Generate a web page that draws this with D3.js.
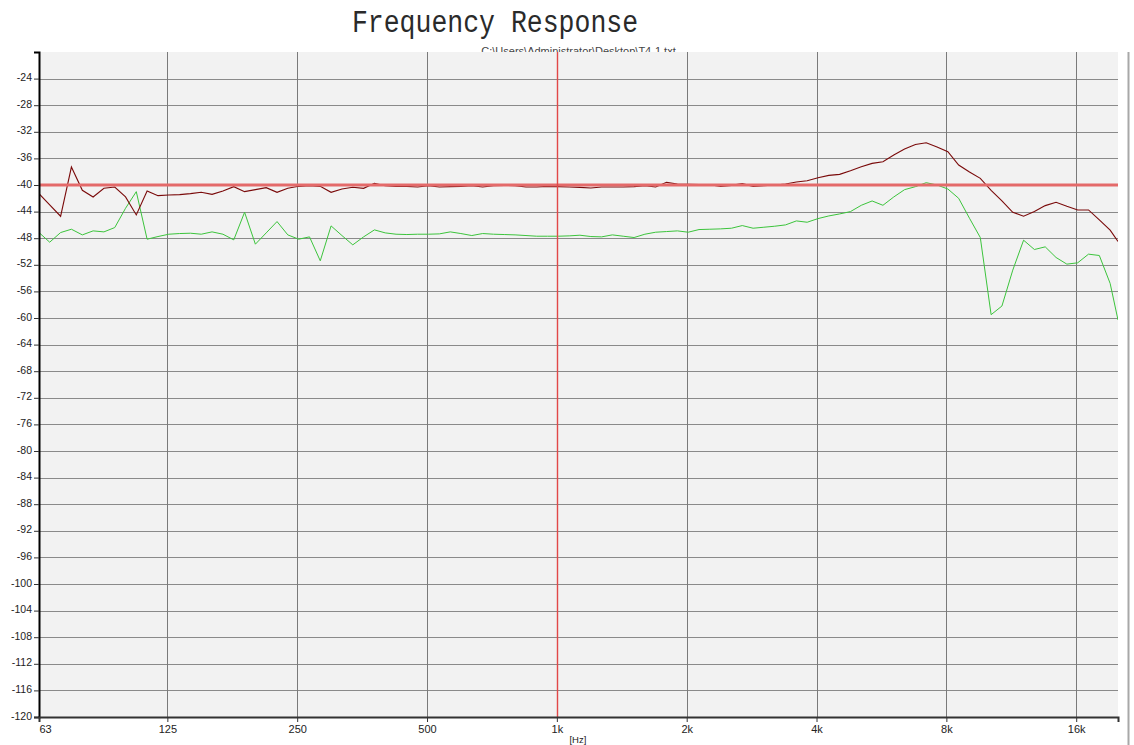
<!DOCTYPE html>
<html>
<head>
<meta charset="utf-8">
<script src="https://cdn.jsdelivr.net/npm/d3@7"></script>
<style>
html,body{margin:0;padding:0;background:#fff;}
svg{display:block;}
</style>
</head>
<body>
<svg id="chart" width="1134" height="745"></svg>
<script>
// ---- data ----
const title = "Frequency Response";
const subtitle = "C:\\Users\\Administrator\\Desktop\\T4-1.txt";
const xUnit = "[Hz]";
const xTickValues = [63, 125, 250, 500, 1000, 2000, 4000, 8000, 16000];
const xTickLabels = ["63", "125", "250", "500", "1k", "2k", "4k", "8k", "16k"];
const yTickValues = [-24,-28,-32,-36,-40,-44,-48,-52,-56,-60,-64,-68,-72,-76,-80,-84,-88,-92,-96,-100,-104,-108,-112,-116,-120];
const referenceLevel = -40;
const referenceFreq = 1000;

const freqs = [
  63.0, 66.7, 70.7, 74.9, 79.4, 84.1, 89.1, 94.4, 100.0, 105.9, 112.2, 118.9,
  126.0, 133.5, 141.4, 149.8, 158.7, 168.2, 178.2, 188.8, 200.0, 211.9, 224.5, 237.8,
  252.0, 267.0, 282.8, 299.6, 317.5, 336.4, 356.4, 377.6, 400.0, 423.8, 449.0, 475.7,
  504, 534, 566, 599, 635, 673, 713, 755, 800, 848, 898, 951,
  1008, 1068, 1131, 1199, 1270, 1345, 1425, 1510, 1600, 1695, 1796, 1903,
  2016, 2136, 2263, 2397, 2540, 2691, 2851, 3020, 3200, 3390, 3592, 3805,
  4032, 4272, 4525, 4794, 5080, 5382, 5702, 6041, 6400, 6781, 7184, 7611,
  8064, 8543, 9051, 9589, 10159, 10763, 11404, 12082, 12800, 13561, 14368, 15222,
  16128, 17087, 18102, 19179, 20000
];

const darkRed = [
  -41.3, -43.0, -44.7, -37.3, -40.8, -41.8, -40.5, -40.3, -41.8, -44.5, -40.9, -41.6,
  -41.5, -41.45, -41.3, -41.1, -41.4, -40.9, -40.25, -41.0, -40.7, -40.4, -41.1, -40.5,
  -40.2, -40.1, -40.2, -41.1, -40.6, -40.35, -40.5, -39.75, -40.1, -40.2, -40.2, -40.3,
  -40.1, -40.3, -40.25, -40.2, -40.1, -40.3, -40.1, -40.05, -40.1, -40.3, -40.3, -40.2,
  -40.25, -40.3, -40.35, -40.45, -40.3, -40.3, -40.3, -40.25, -40.1, -40.3, -39.6, -39.85,
  -39.9, -39.95, -39.95, -40.2, -40.05, -39.8, -40.2, -40.1, -40.0, -39.85, -39.55, -39.35,
  -38.9, -38.55, -38.4, -37.85, -37.25, -36.75, -36.5, -35.5, -34.6, -33.9, -33.65, -34.3,
  -35.0, -37.0, -38.05, -39.0, -40.8, -42.4, -44.1, -44.7, -44.0, -43.1, -42.6, -43.2,
  -43.75, -43.75, -45.25, -46.8, -48.5
];

const green = [
  -47.15, -48.6, -47.15, -46.65, -47.5, -46.9, -47.05, -46.4, -43.5, -41.0, -48.15, -47.75,
  -47.4, -47.3, -47.25, -47.4, -47.05, -47.4, -48.25, -44.1, -48.9, -47.2, -45.5, -47.5,
  -48.15, -47.8, -51.4, -46.15, -47.6, -49.0, -47.8, -46.75, -47.2, -47.4, -47.45, -47.4,
  -47.4, -47.35, -47.05, -47.3, -47.6, -47.3, -47.4, -47.45, -47.5, -47.6, -47.7, -47.7,
  -47.7, -47.65, -47.55, -47.75, -47.8, -47.5, -47.7, -47.9, -47.4, -47.1, -47.0, -46.9,
  -47.1, -46.7, -46.65, -46.6, -46.5, -46.1, -46.5, -46.35, -46.2, -46.0, -45.4, -45.6,
  -45.05, -44.65, -44.35, -44.0, -43.05, -42.4, -43.05, -41.8, -40.7, -40.25, -39.65, -40.0,
  -40.6, -42.0, -45.0, -47.9, -59.5, -58.2, -52.8, -48.3, -49.7, -49.3, -50.9, -51.9,
  -51.7, -50.4, -50.6, -54.8, -60.3
];

// ---- layout ----
const svg = d3.select("#chart");
const L = 39, R = 1118, T = 52, B = 717;

const x = d3.scaleLog().domain([63, 20000]).range([L, R]);
const y = d3.scaleLinear().domain([-120, -20]).range([B, T]);

// title
svg.append("text")
  .attr("transform", `translate(495,32) scale(1,1.2)`)
  .attr("text-anchor", "middle")
  .attr("font-family", "'Liberation Mono', 'DejaVu Sans Mono', monospace")
  .attr("font-size", "26.5px")
  .attr("fill", "#2a2a2a")
  .text(title);

// subtitle (partly hidden behind plot area)
svg.append("text")
  .attr("x", (L + R) / 2)
  .attr("y", 55)
  .attr("text-anchor", "middle")
  .attr("font-family", "'Liberation Sans', Arial, sans-serif")
  .attr("font-size", "11px")
  .attr("fill", "#444")
  .text(subtitle);

// plot background
svg.append("rect")
  .attr("x", L).attr("y", T)
  .attr("width", R - L).attr("height", B - T)
  .attr("fill", "#f2f2f2");

// horizontal grid
svg.append("g").selectAll("line")
  .data(yTickValues.filter(v => v > -120))
  .join("line")
  .attr("x1", L).attr("x2", R)
  .attr("y1", d => Math.round(y(d)) + 0.5).attr("y2", d => Math.round(y(d)) + 0.5)
  .attr("stroke", "#8a8a8a").attr("stroke-width", 1);

// vertical grid
svg.append("g").selectAll("line")
  .data(xTickValues.filter(v => v !== 63 && v !== referenceFreq))
  .join("line")
  .attr("x1", d => Math.round(x(d)) + 0.5).attr("x2", d => Math.round(x(d)) + 0.5)
  .attr("y1", T).attr("y2", B)
  .attr("stroke", "#7a7a7a").attr("stroke-width", 1);

// clip
svg.append("defs").append("clipPath").attr("id", "plotclip")
  .append("rect").attr("x", L).attr("y", T).attr("width", R - L).attr("height", B - T);

const line = (vals) => d3.line()
  .x((d, i) => x(freqs[i]))
  .y(d => y(d))(vals);

const plot = svg.append("g").attr("clip-path", "url(#plotclip)");

plot.append("path")
  .attr("d", line(green))
  .attr("fill", "none")
  .attr("stroke", "#3cc43c")
  .attr("stroke-width", 1);

plot.append("path")
  .attr("d", line(darkRed))
  .attr("fill", "none")
  .attr("stroke", "#7a0a0a")
  .attr("stroke-width", 1.1);

// reference lines
plot.append("line")
  .attr("x1", L).attr("x2", R)
  .attr("y1", y(referenceLevel)).attr("y2", y(referenceLevel))
  .attr("stroke", "#e46a6a").attr("stroke-width", 3);

plot.append("line")
  .attr("x1", Math.round(x(referenceFreq)) + 0.5).attr("x2", Math.round(x(referenceFreq)) + 0.5)
  .attr("y1", T).attr("y2", B)
  .attr("stroke", "#e24848").attr("stroke-width", 1.4);

// axes
const yAxis = d3.axisLeft(y).tickValues(yTickValues).tickSize(5).tickPadding(2)
  .tickFormat(d => d);
const gy = svg.append("g").attr("transform", `translate(${L},0)`).call(yAxis);
gy.select(".domain").attr("stroke", "#000").attr("stroke-width", 2);
gy.selectAll(".tick line").attr("stroke", "#333");
gy.selectAll(".tick text")
  .attr("font-family", "'Liberation Sans', Arial, sans-serif")
  .attr("font-size", "10.5px").attr("fill", "#222")
  .attr("dy", "0.2em");

const xAxis = d3.axisBottom(x).tickValues(xTickValues).tickSize(5).tickPadding(3)
  .tickFormat((d, i) => xTickLabels[i]);
const gx = svg.append("g").attr("transform", `translate(0,${B})`).call(xAxis);
gx.select(".domain").attr("stroke", "#333").attr("stroke-width", 2);
gx.selectAll(".tick line").attr("stroke", "#333");
gx.selectAll(".tick text")
  .attr("font-family", "'Liberation Sans', Arial, sans-serif")
  .attr("font-size", "11px").attr("fill", "#222")
  .attr("dx", (d, i) => i === 0 ? "6px" : "0");

svg.append("text")
  .attr("x", x(1000) + 21).attr("y", 743)
  .attr("text-anchor", "middle")
  .attr("font-family", "'Liberation Sans', Arial, sans-serif")
  .attr("font-size", "9.5px").attr("fill", "#222")
  .text(xUnit);

// right frame edge
svg.append("line")
  .attr("x1", 1128.5).attr("x2", 1128.5).attr("y1", T).attr("y2", 745)
  .attr("stroke", "#a8a8a8").attr("stroke-width", 2);
</script>
</body>
</html>
